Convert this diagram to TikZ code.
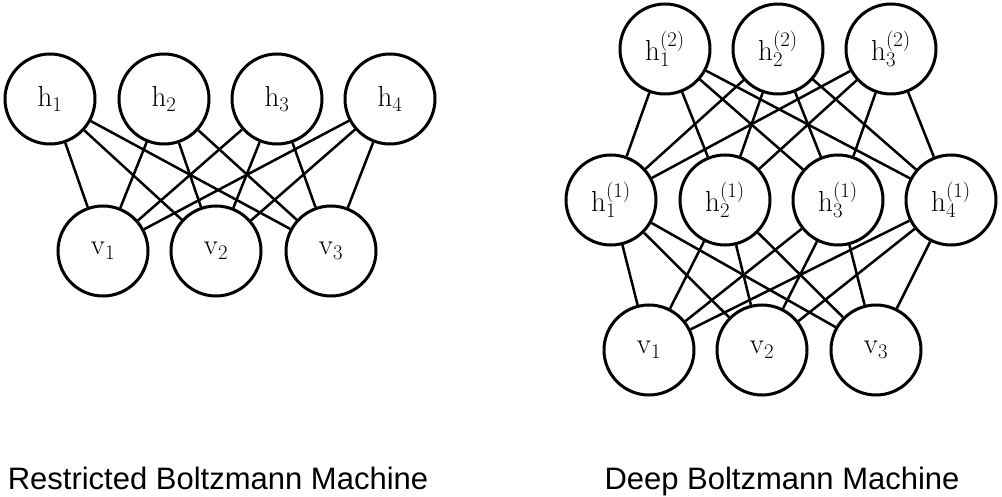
\documentclass[tikz,border=0pt]{standalone}
\usepackage{fontspec}
\setsansfont{Liberation Sans}
\begin{document}
\begin{tikzpicture}[x=1pt,y=-1pt,
  unit/.style={circle,draw,line width=3pt,minimum size=90pt,inner sep=0pt,font=\fontsize{29}{33}\selectfont},
  link/.style={line width=2.5pt},
  caption/.style={font=\sffamily\fontsize{31}{35}\selectfont,anchor=base}]
\useasboundingbox (0,0) rectangle (1002,497);
% RBM
\node[unit] (h1) at (50,99) {$\mathrm{h}_1$};
\node[unit] (h2) at (164,99) {$\mathrm{h}_2$};
\node[unit] (h3) at (277,99) {$\mathrm{h}_3$};
\node[unit] (h4) at (390,99) {$\mathrm{h}_4$};
\node[unit] (v1) at (103,251) {$\mathrm{v}_1$};
\node[unit] (v2) at (216,251) {$\mathrm{v}_2$};
\node[unit] (v3) at (331,251) {$\mathrm{v}_3$};
\foreach \a in {h1,h2,h3,h4}
  \foreach \b in {v1,v2,v3}
    \draw[link] (\a) -- (\b);
% DBM
\node[unit] (t1) at (665,49) {$\mathrm{h}^{(2)}_1$};
\node[unit] (t2) at (778,49) {$\mathrm{h}^{(2)}_2$};
\node[unit] (t3) at (891,49) {$\mathrm{h}^{(2)}_3$};
\node[unit] (m1) at (611,200) {$\mathrm{h}^{(1)}_1$};
\node[unit] (m2) at (725,200) {$\mathrm{h}^{(1)}_2$};
\node[unit] (m3) at (838,200) {$\mathrm{h}^{(1)}_3$};
\node[unit] (m4) at (951,200) {$\mathrm{h}^{(1)}_4$};
\node[unit] (w1) at (649,350) {$\mathrm{v}_1$};
\node[unit] (w2) at (762,350) {$\mathrm{v}_2$};
\node[unit] (w3) at (876,350) {$\mathrm{v}_3$};
\foreach \a in {t1,t2,t3}
  \foreach \b in {m1,m2,m3,m4}
    \draw[link] (\a) -- (\b);
\foreach \a in {m1,m2,m3,m4}
  \foreach \b in {w1,w2,w3}
    \draw[link] (\a) -- (\b);
% captions
\node[caption] (c1) at (218,489) {Restricted Boltzmann Machine};
\node[caption] (c2) at (782,489) {Deep Boltzmann Machine};
\end{tikzpicture}
\end{document}
